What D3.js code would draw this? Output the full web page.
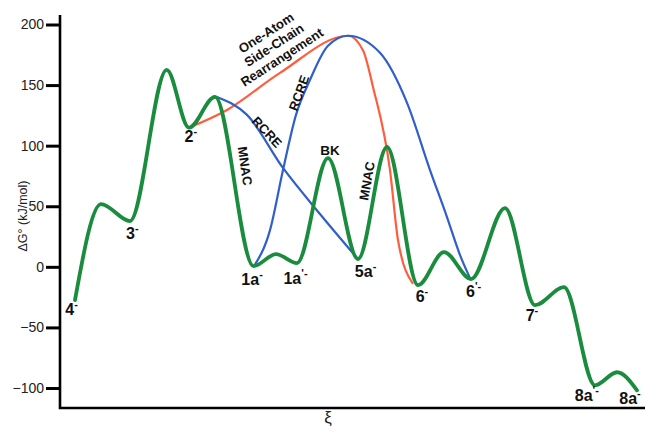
<!DOCTYPE html>
<html>
<head>
<meta charset="utf-8">
<script src="https://cdn.jsdelivr.net/npm/d3@7"></script>
<style>
  body { margin: 0; background: #fff; }
  text { font-family: "Liberation Sans", Arial, sans-serif; }
</style>
</head>
<body>
<div id="wrapper"></div>
<script>
// reaction coordinate (arbitrary units 0..100) and free energy (kJ/mol)
const greenXi = [2.56, 7.01, 11.97, 18.24, 22.05, 26.50, 33.08, 36.92, 40.51, 45.81, 50.94, 55.90, 61.20, 65.64, 70.26, 76.07, 81.20, 86.15, 91.45, 95.21, 98.63];
const greenG  = [-27.5, 51.8, 37.8, 162.6, 114.9, 140.2, 0.6, 10.5, 3.1, 89.8, 6.4, 98.9, -15.1, 12.2, -10.1, 48.5, -31.6, -16.8, -97.8, -87.0, -101.9];

// one-atom side-chain rearrangement (2- -> 6-)
const redXi = [22.05, 28.55, 37.61, 49.23, 51.79, 53.50, 56.41, 57.78, 60.34];
const redG  = [114.9, 129.5, 160.1, 190.7, 178.7, 148.5, 79.9, 22.0, -14.0];

// RCRE 2- peak -> 5a-
const blue1Xi = [26.84, 31.97, 38.12, 44.44, 50.94];
const blue1G  = [140.2, 125.4, 81.6, 43.6, 6.4];

// RCRE 1a- -> 6'-
const blue2Xi = [33.16, 35.90, 38.12, 40.34, 42.74, 45.81, 49.23, 54.70, 59.32, 63.25, 66.15, 68.38, 70.09];
const blue2G  = [0.6, 30.3, 79.9, 125.4, 154.3, 182.4, 190.7, 176.6, 135.3, 79.9, 41.1, 9.7, -9.3];

const yTicks = [-100, -50, 0, 50, 100, 150, 200];

// state labels: [main, superscript, xi, G]
const stateLabels = [
  ["4", "-", 0.9, -40],
  ["3", "-", 11.3, 23],
  ["2", "-", 21.3, 103],
  ["1a", "-", 31.0, -15],
  ["1a", "'-", 38.2, -14],
  ["5a", "-", 50.4, -8],
  ["6", "-", 60.8, -29],
  ["6", "'-", 69.4, -25],
  ["7", "-", 79.6, -45],
  ["8a", "'-", 88.0, -111],
  ["8a", "-", 95.6, -113]
];

const drawChart = () => {

  const width = 645;
  let dimensions = {
    width: width,
    height: 431,
    margin: { top: 15, right: 0, bottom: 23, left: 60 }
  };
  dimensions.boundedWidth = dimensions.width - dimensions.margin.left - dimensions.margin.right;
  dimensions.boundedHeight = dimensions.height - dimensions.margin.top - dimensions.margin.bottom;

  const svg = d3.select("#wrapper")
    .append("svg")
    .attr("width", dimensions.width)
    .attr("height", dimensions.height);

  const bounds = svg.append("g")
    .attr("transform", `translate(${dimensions.margin.left},${dimensions.margin.top})`);

  // scales
  const xScale = d3.scaleLinear()
    .domain([0, 100])
    .range([0, dimensions.boundedWidth]);

  const yScale = d3.scaleLinear()
    .domain([-100, 200])
    .range([373, 9.5]);

  const line = d3.line()
    .x(d => xScale(d[0]))
    .y(d => yScale(d[1]))
    .curve(d3.curveMonotoneX);

  const zip = (a, b) => a.map((v, i) => [v, b[i]]);

  // curves
  bounds.append("path")
    .attr("d", line(zip(redXi, redG)))
    .attr("fill", "none").attr("stroke", "#ff5d3e").attr("stroke-width", 2.2);

  bounds.append("path")
    .attr("d", line(zip(blue1Xi, blue1G)))
    .attr("fill", "none").attr("stroke", "#2f5fc9").attr("stroke-width", 2.2);

  bounds.append("path")
    .attr("d", line(zip(blue2Xi, blue2G)))
    .attr("fill", "none").attr("stroke", "#2f5fc9").attr("stroke-width", 2.2);

  bounds.append("path")
    .attr("d", line(zip(greenXi, greenG)))
    .attr("fill", "none").attr("stroke", "#1a8c3d").attr("stroke-width", 3.8)
    .attr("stroke-linecap", "round");

  // axes
  const yAxis = d3.axisLeft(yScale)
    .tickValues(yTicks)
    .tickSize(13)
    .tickPadding(2);

  const yAxisG = bounds.append("g").call(yAxis);
  yAxisG.select(".domain").remove();
  yAxisG.selectAll(".tick line").attr("stroke", "#000").attr("stroke-width", 3).attr("x2", -14).attr("x1", -1);
  yAxisG.selectAll(".tick text")
    .attr("font-size", 14)
    .attr("fill", "#222")
    .attr("x", -16)
    .attr("font-family", "'Liberation Sans', Arial, sans-serif");

  bounds.append("path")
    .attr("d", `M0,0V${dimensions.boundedHeight}H${dimensions.boundedWidth}`)
    .attr("fill", "none").attr("stroke", "#000").attr("stroke-width", 2.6);

  svg.append("text")
    .attr("transform", "translate(27,216) rotate(-90)")
    .attr("text-anchor", "middle")
    .attr("font-size", 12.5)
    .attr("fill", "#222")
    .text("ΔG° (kJ/mol)");

  svg.append("text")
    .attr("x", 328).attr("y", 423)
    .attr("text-anchor", "middle")
    .attr("font-size", 17)
    .attr("fill", "#222")
    .text("ξ");

  // state labels
  const labels = bounds.selectAll(".state")
    .data(stateLabels)
    .enter()
    .append("text")
    .attr("class", "state")
    .attr("x", d => xScale(d[2]))
    .attr("y", d => yScale(d[3]))
    .attr("font-size", 16)
    .attr("font-weight", "bold")
    .attr("fill", "#111");
  labels.append("tspan").text(d => d[0]);
  labels.append("tspan")
    .attr("font-size", 11)
    .attr("dy", -7)
    .text(d => d[1]);

  // path annotations
  const note = (x, y, angle, txt, size) => {
    bounds.append("text")
      .attr("transform", `translate(${x - dimensions.margin.left},${y - dimensions.margin.top}) rotate(${angle})`)
      .attr("text-anchor", "middle")
      .attr("dy", "0.35em")
      .attr("font-size", size)
      .attr("font-weight", "bold")
      .attr("fill", "#111")
      .text(txt);
  };

  note(330, 150, 0, "BK", 13.5);
  note(245, 166, 82, "MNAC", 13);
  note(367, 181, -80, "MNAC", 13);
  note(267, 132, 47, "RCRE", 13);
  note(299, 93, -70, "RCRE", 13);

  const rear = bounds.append("g")
    .attr("transform", `translate(${274 - dimensions.margin.left},${45 - dimensions.margin.top}) rotate(-33)`);
  ["One-Atom", "Side-Chain", "Rearrangement"].forEach((t, i) => {
    rear.append("text")
      .attr("text-anchor", "middle")
      .attr("y", (i - 1) * 14.5)
      .attr("dy", "0.35em")
      .attr("font-size", 13)
      .attr("font-weight", "bold")
      .attr("fill", "#111")
      .text(t);
  });
};

drawChart();
</script>
</body>
</html>
